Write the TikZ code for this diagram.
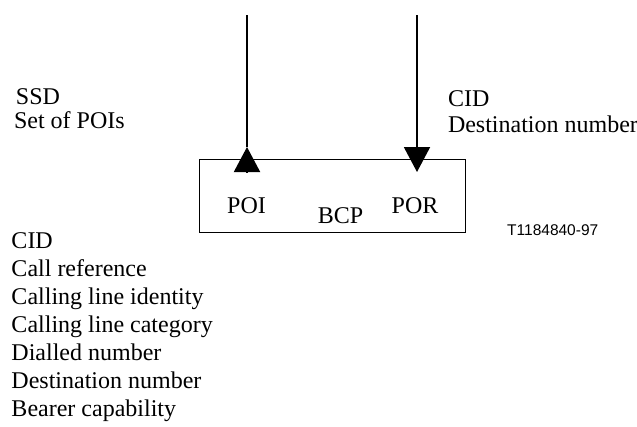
\documentclass[tikz,border=0pt]{standalone}
\usepackage{fontspec}
\setmainfont{Liberation Serif}
\newfontfamily\labelsans{Liberation Sans}
\usetikzlibrary{arrows.meta}
\begin{document}
\begin{tikzpicture}[x=1pt,y=-1pt,
  txt/.style={inner sep=0pt,outer sep=0pt,anchor=base west,font=\fontsize{24}{28}\selectfont},
  ctxt/.style={inner sep=0pt,outer sep=0pt,anchor=base,font=\fontsize{24}{28}\selectfont},
  flow/.style={line width=2pt},
  head/.style={line width=2pt,-{Triangle[width=26pt,length=25pt]}},
  boxline/.style={line width=1pt}]
\useasboundingbox (0,0) rectangle (637,426);
% box
\node[draw,boxline,inner sep=0pt,outer sep=0pt,minimum width=266pt,minimum height=73pt,anchor=north west] (box) at (199,159) {};
% connectors
\coordinate (lTop) at (247,15);
\coordinate (lBase) at (247,172);
\coordinate (lTip) at (247,147);
\coordinate (rTop) at (417,15);
\coordinate (rTip) at (417,172);
\draw[flow] (lTop) -- (lTip);
\draw[head] (lBase) -- (lTip);
\draw[head] (rTop) -- (rTip);
% labels in box
\node[ctxt] (poi) at (246.5,213) {POI};
\node[ctxt] (bcp) at (340.5,223) {BCP};
\node[ctxt] (por) at (415,213) {POR};
% left top
\node[txt] (ssd) at (16,104) {SSD};
\node[txt] (set) at (14,128) {Set of POIs};
% right top
\node[txt] (cidr) at (448,106) {CID};
\node[txt] (destr) at (448,132) {Destination number};
% left list
\node[txt] (l1) at (11.5,248) {CID};
\node[txt] (l2) at (11.5,276) {Call reference};
\node[txt] (l3) at (11.5,304) {Calling line identity};
\node[txt] (l4) at (11.5,332) {Calling line category};
\node[txt] (l5) at (11.5,360) {Dialled number};
\node[txt] (l6) at (11.5,388) {Destination number};
\node[txt] (l7) at (11.5,416) {Bearer capability};
% tag
\node[inner sep=0pt,anchor=base west,font=\labelsans\fontsize{15.5}{18}\selectfont] (tag) at (507,235) {T1184840-97};
\end{tikzpicture}
\end{document}
